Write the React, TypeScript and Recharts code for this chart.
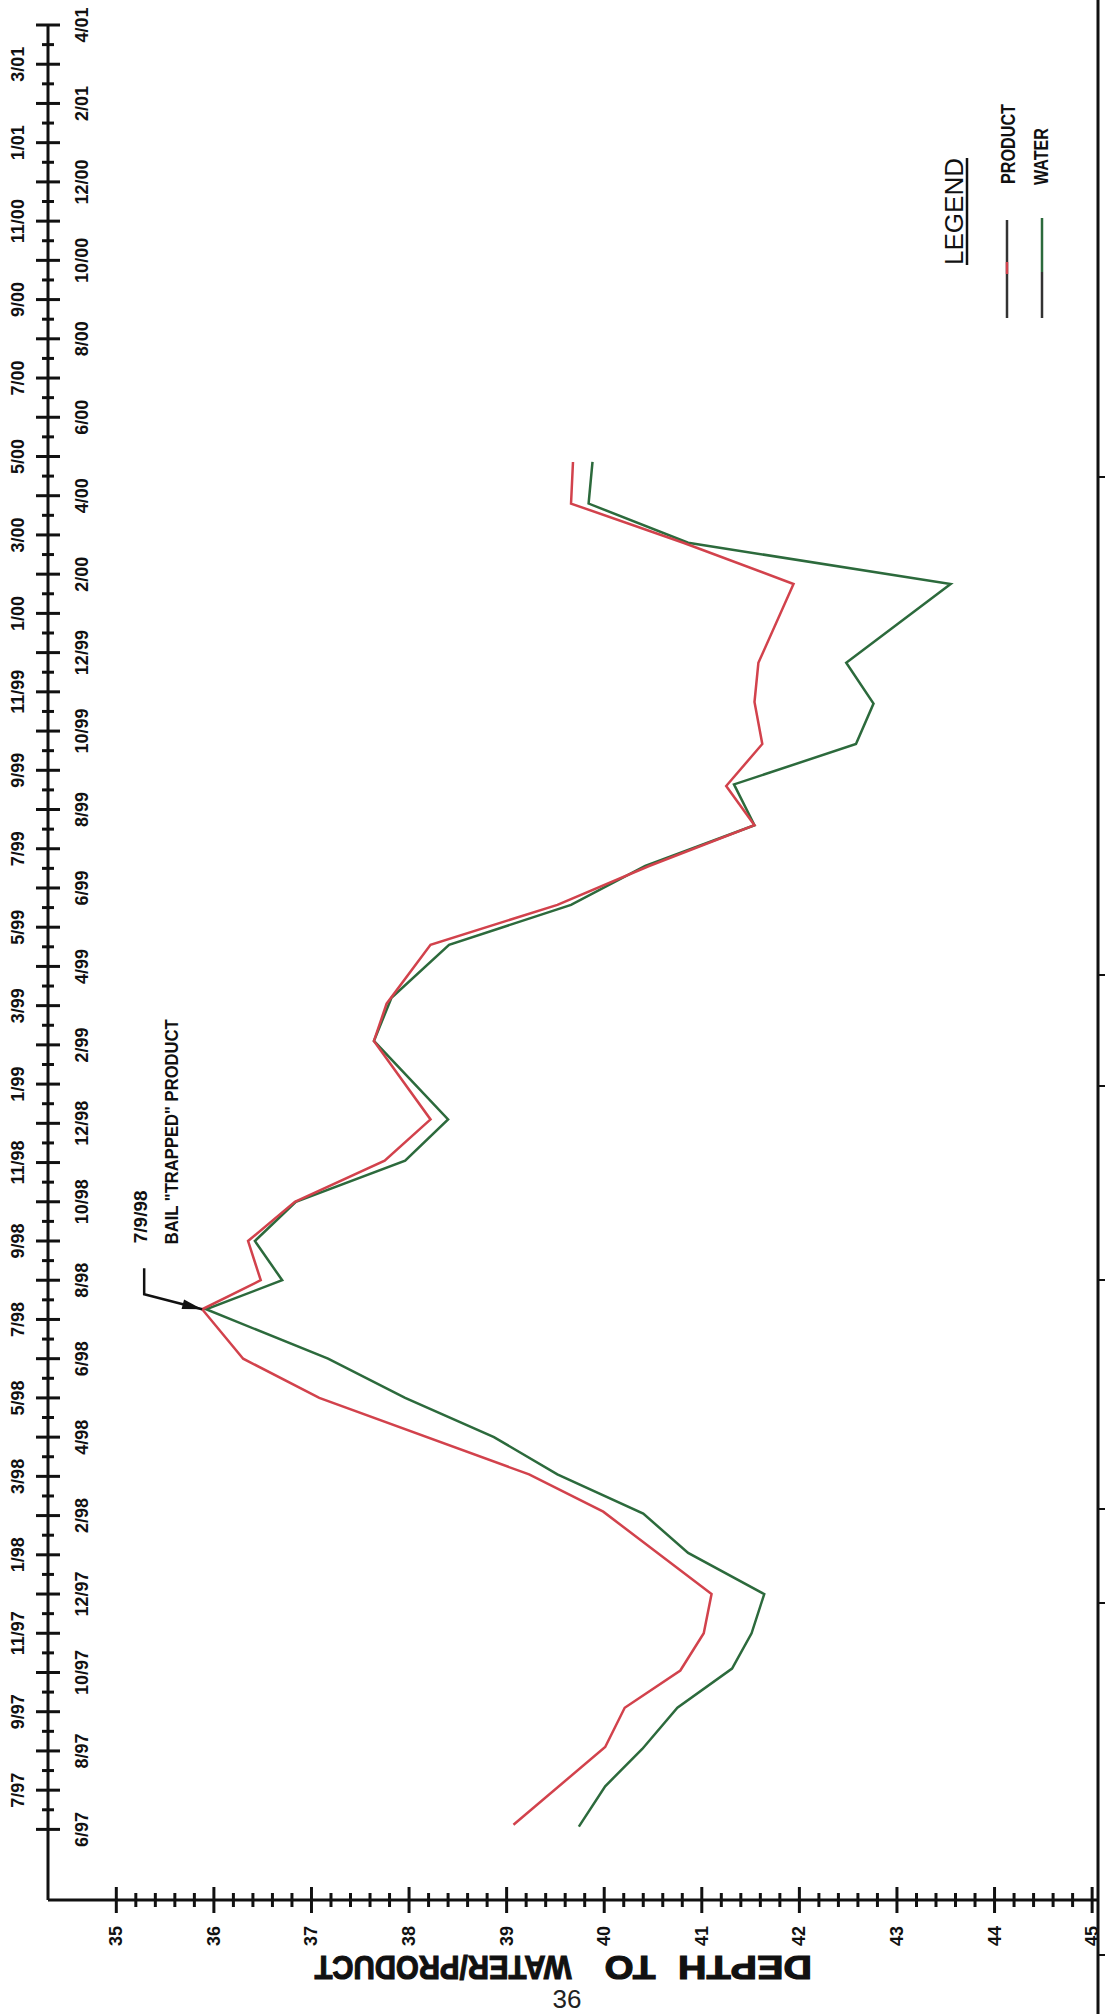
import { LineChart, Line, XAxis, YAxis, ReferenceDot } from 'recharts';

// Dates are counted in months from Jan 1997 (0 = 1/97, 5 = 6/97).
const FIRST_TICK = 5;
const monthLabels = [
  '6/97', '7/97', '8/97', '9/97', '10/97', '11/97', '12/97',
  '1/98', '2/98', '3/98', '4/98', '5/98', '6/98', '7/98', '8/98', '9/98', '10/98', '11/98', '12/98',
  '1/99', '2/99', '3/99', '4/99', '5/99', '6/99', '7/99', '8/99', '9/99', '10/99', '11/99', '12/99',
  '1/00', '2/00', '3/00', '4/00', '5/00', '6/00', '7/00', '8/00', '9/00', '10/00', '11/00', '12/00',
  '1/01', '2/01', '3/01', '4/01',
];
const depthLabels = [35, 36, 37, 38, 39, 40, 41, 42, 43, 44, 45];

const productDates = [5.12, 7.1, 8.1, 9.05, 10.0, 11.0, 13.1, 14.05, 16.0, 17.0, 18.26, 19.0, 20.0, 21.0, 22.05, 23.1, 25.1, 26.05, 27.55, 28.57, 29.56, 30.6, 31.6, 32.67, 33.74, 34.74, 36.75, 37.8, 38.8, 39.86];
const productDepths = [39.07, 40.01, 40.21, 40.78, 41.02, 41.1, 39.99, 39.23, 37.08, 36.3, 35.88, 36.48, 36.35, 36.83, 37.75, 38.22, 37.64, 37.77, 38.22, 39.52, 40.46, 41.54, 41.25, 41.62, 41.54, 41.58, 41.94, 40.81, 39.66, 39.68];

const waterDates = [5.07, 6.1, 7.05, 8.1, 9.1, 10.0, 11.0, 12.05, 13.05, 14.05, 15.0, 16.0, 17.0, 18.26, 19.0, 20.0, 21.0, 22.05, 23.1, 25.1, 26.2, 27.55, 28.57, 29.56, 30.6, 31.64, 32.67, 33.7, 34.74, 36.75, 37.8, 38.8, 39.86];
const waterDepths = [39.74, 40.01, 40.39, 40.75, 41.31, 41.51, 41.64, 40.86, 40.4, 39.52, 38.87, 37.96, 37.17, 35.92, 36.7, 36.42, 36.84, 37.96, 38.4, 37.64, 37.82, 38.41, 39.66, 40.42, 41.54, 41.33, 42.58, 42.76, 42.48, 43.55, 40.86, 39.84, 39.88];

// the bailed reading called out on the plot
const trapped = { label: '7/9/98', t: 18.26, depth: 35.88 };

const productData = productDates.map((t, i) => ({ t, depth: productDepths[i] }));
const waterData = waterDates.map((t, i) => ({ t, depth: waterDepths[i] }));

const RED = '#d2424c';
const GREEN = '#2c6a3c';
const INK = '#111';
const FONT = "'Liberation Sans', Arial, sans-serif";

// half-month ticks on the date axis, 0.2 ft ticks on the depth axis
const dateTicks = Array.from({ length: (monthLabels.length - 1) * 2 + 1 }, (_, i) => FIRST_TICK + i / 2);
const depthTicks = Array.from({ length: 51 }, (_, i) => Math.round((35 + i * 0.2) * 10) / 10);

function DateTick(props: any) {
  const { x, y, payload } = props;
  const t = payload.value as number;
  const major = Number.isInteger(t);
  const half = major ? 12 : 6;
  let label = null;
  if (major) {
    const text = monthLabels[t - FIRST_TICK];
    const month = parseInt(text, 10);
    const lx = month % 2 === 1 ? x - 30 : x + 34;
    label = (
      <text
        x={lx}
        y={y}
        transform={`rotate(-90 ${lx} ${y})`}
        textAnchor="middle"
        dominantBaseline="central"
        fontFamily={FONT}
        fontWeight="bold"
        fontSize={18}
        fill={INK}
      >
        {text}
      </text>
    );
  }
  return (
    <g>
      <line x1={x - half} x2={x + half} y1={y} y2={y} stroke={INK} strokeWidth={3} />
      {label}
    </g>
  );
}

function DepthTick(props: any) {
  const { x, y, payload } = props;
  const v = payload.value as number;
  const major = Math.abs(v - Math.round(v)) < 1e-6;
  const half = major ? 13 : 7;
  const ly = y + 36;
  return (
    <g>
      <line x1={x} x2={x} y1={y - half} y2={y + half} stroke={INK} strokeWidth={3} />
      {major && depthLabels.includes(Math.round(v)) && (
        <text
          x={x}
          y={ly}
          transform={`rotate(-90 ${x} ${ly})`}
          textAnchor="middle"
          dominantBaseline="central"
          fontFamily={FONT}
          fontWeight="bold"
          fontSize={18}
          fill={INK}
        >
          {Math.round(v)}
        </text>
      )}
    </g>
  );
}

// leader arrow and note pointing at the bailed reading
function TrappedNote(props: any) {
  const { cx, cy } = props;
  const bx = cx - 58;
  const by = cy - 15;
  const dx = cx - bx;
  const dy = cy - by;
  const len = Math.hypot(dx, dy);
  const ux = dx / len;
  const uy = dy / len;
  const hx = cx - ux * 20;
  const hy = cy - uy * 20;
  const head = `${cx},${cy} ${hx - uy * 5},${hy + ux * 5} ${hx + uy * 5},${hy - ux * 5}`;
  return (
    <g>
      <polyline points={`${bx},${cy - 41} ${bx},${by} ${cx},${cy}`} fill="none" stroke={INK} strokeWidth={2.5} />
      <polygon points={head} fill={INK} />
      <text
        x={cx - 62}
        y={cy - 66}
        transform={`rotate(-90 ${cx - 62} ${cy - 66})`}
        dominantBaseline="central"
        fontFamily={FONT}
        fontWeight="bold"
        fontSize={19}
        fill={INK}
      >
        {trapped.label}
      </text>
      <text
        x={cx - 31}
        y={cy - 65}
        transform={`rotate(-90 ${cx - 31} ${cy - 65})`}
        dominantBaseline="central"
        fontFamily={FONT}
        fontWeight="bold"
        fontSize={19}
        textLength={225}
        lengthAdjust="spacingAndGlyphs"
        fill={INK}
      >
        BAIL "TRAPPED" PRODUCT
      </text>
    </g>
  );
}

const titleParts = [
  { text: 'DEPTH', cx: 745, w: 134 },
  { text: 'TO', cx: 630, w: 51 },
  { text: 'WATER/PRODUCT', cx: 443, w: 257 },
];

const frameStubs = [477, 975, 1086, 1280, 1509, 1603, 1955];

export default function App() {
  return (
    <div style={{ position: 'absolute', left: 0, top: 0, width: 1105, height: 2014, background: '#fff' }}>
      <LineChart
        width={1105}
        height={2014}
        layout="vertical"
        margin={{ top: 25, right: 8, bottom: 113, left: 47 }}
      >
        <XAxis
          type="number"
          domain={[34.3, 45.05]}
          ticks={depthTicks}
          interval={0}
          height={1}
          tickSize={0}
          tickMargin={0}
          tickLine={false}
          axisLine={{ stroke: INK, strokeWidth: 3 }}
          tick={DepthTick}
        />
        <YAxis
          type="number"
          dataKey="t"
          domain={[3.2, 51]}
          reversed
          ticks={dateTicks}
          interval={0}
          width={1}
          tickSize={0}
          tickMargin={0}
          tickLine={false}
          axisLine={{ stroke: INK, strokeWidth: 3 }}
          tick={DateTick}
        />
        <Line
          data={waterData}
          dataKey="depth"
          name="WATER"
          type="linear"
          stroke={GREEN}
          strokeWidth={2.5}
          dot={false}
          activeDot={false}
          isAnimationActive={false}
        />
        <Line
          data={productData}
          dataKey="depth"
          name="PRODUCT"
          type="linear"
          stroke={RED}
          strokeWidth={2.5}
          dot={false}
          activeDot={false}
          isAnimationActive={false}
        />
        <ReferenceDot x={trapped.depth} y={trapped.t} shape={TrappedNote} />
      </LineChart>

      <svg
        width={1105}
        height={2014}
        style={{ position: 'absolute', left: 0, top: 0, pointerEvents: 'none' }}
      >
        {/* sheet border on the right */}
        <line x1={1098} x2={1098} y1={0} y2={2014} stroke={INK} strokeWidth={3} />
        {frameStubs.map((sy) => (
          <line key={sy} x1={1098} x2={1105} y1={sy} y2={sy} stroke={INK} strokeWidth={2} />
        ))}

        {/* legend */}
        <text
          x={954}
          y={265}
          transform="rotate(-90 954 265)"
          dominantBaseline="central"
          fontFamily={FONT}
          fontSize={25}
          textLength={107}
          lengthAdjust="spacingAndGlyphs"
          fill={INK}
        >
          LEGEND
        </text>
        <line x1={967} x2={967} y1={158} y2={265} stroke={INK} strokeWidth={2.5} />
        <text
          x={1008}
          y={184}
          transform="rotate(-90 1008 184)"
          dominantBaseline="central"
          fontFamily={FONT}
          fontWeight="bold"
          fontSize={20}
          textLength={80}
          lengthAdjust="spacingAndGlyphs"
          fill={INK}
        >
          PRODUCT
        </text>
        <text
          x={1041}
          y={185}
          transform="rotate(-90 1041 185)"
          dominantBaseline="central"
          fontFamily={FONT}
          fontWeight="bold"
          fontSize={20}
          textLength={57}
          lengthAdjust="spacingAndGlyphs"
          fill={INK}
        >
          WATER
        </text>
        <line x1={1007} x2={1007} y1={220} y2={318} stroke="#333" strokeWidth={2.5} />
        <line x1={1007} x2={1007} y1={262} y2={274} stroke={RED} strokeWidth={2.5} />
        <line x1={1042} x2={1042} y1={218} y2={272} stroke={GREEN} strokeWidth={2.5} />
        <line x1={1042} x2={1042} y1={272} y2={318} stroke="#333" strokeWidth={2.5} />

        {/* depth axis title, set upside down */}
        {titleParts.map((p) => (
          <text
            key={p.text}
            x={p.cx}
            y={1968}
            transform={`rotate(180 ${p.cx} 1968)`}
            textAnchor="middle"
            dominantBaseline="central"
            fontFamily={FONT}
            fontWeight="bold"
            fontSize={34}
            textLength={p.w}
            lengthAdjust="spacingAndGlyphs"
            stroke={INK}
            strokeWidth={1.2}
            fill={INK}
          >
            {p.text}
          </text>
        ))}

        <text
          x={567}
          y={1999}
          textAnchor="middle"
          dominantBaseline="central"
          fontFamily={FONT}
          fontSize={26}
          fill="#222"
        >
          36
        </text>
      </svg>
    </div>
  );
}
